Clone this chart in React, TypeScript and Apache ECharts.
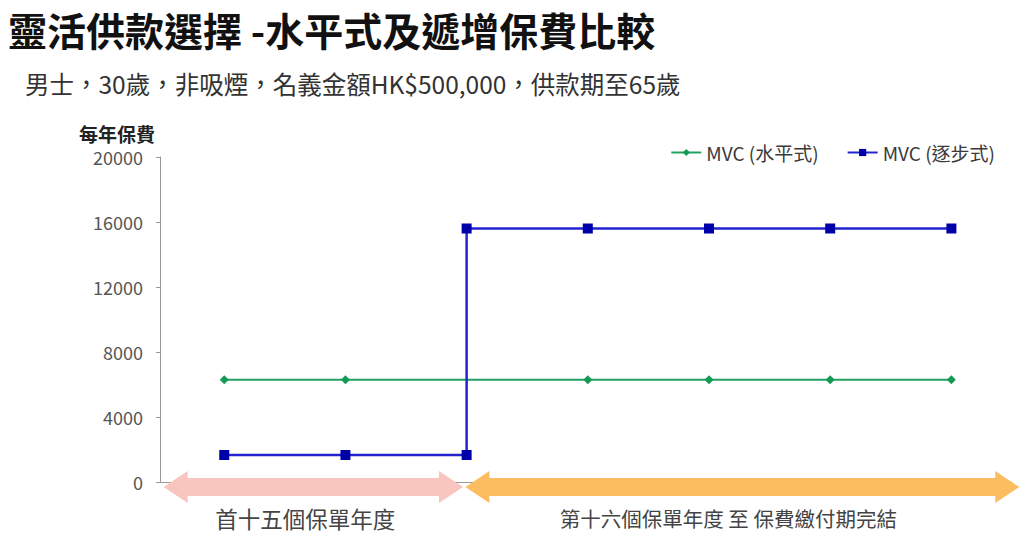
import React, { useEffect, useRef } from "react";
import * as echarts from "echarts";

const titleText = "靈活供款選擇 -水平式及遞增保費比較";
const subtitleText = "男士，30歲，非吸煙，名義金額HK$500,000，供款期至65歲";
const yAxisName = "每年保費";
const seriesNames = ["MVC (水平式)", "MVC (逐步式)"];

// x positions (plot points)
const levelYears = [1, 2, 3, 4, 5, 6, 7];
const levelPremium = [6300, 6300, 6300, 6300, 6300, 6300, 6300];
const stepYears = [1, 2, 3, 3, 4, 5, 6, 7];
const stepPremium = [1660, 1660, 1660, 15600, 15600, 15600, 15600, 15600];

const yTicks = [0, 4000, 8000, 12000, 16000, 20000];

// phase arrows beneath the axis (in x-axis units)
const phaseLabels = ["首十五個保單年度", "第十六個保單年度 至 保費繳付期完結"];
const phaseStarts = [0.5, 2.99];
const phaseEnds = [2.97, 7.56];
const phaseColors = ["#f8c5bf", "#fbbd5f"];

const FONT = '"Noto Sans CJK TC", "Noto Sans", sans-serif';

export default function App() {
  const ref = useRef<HTMLDivElement>(null);
  useEffect(() => {
    document.body.style.margin = "0";
    if (!ref.current) return;
    const chart = echarts.init(ref.current, null, { renderer: "svg" });
    const option: any = {
      animation: false,
      textStyle: { fontFamily: FONT },
      title: [
        {
          text: titleText,
          left: 3,
          top: 4,
          textStyle: { fontSize: 39, fontWeight: "bold", color: "#111", fontFamily: FONT },
        },
        {
          text: subtitleText,
          left: 20,
          top: 66,
          textStyle: { fontSize: 24.5, fontWeight: "normal", color: "#333", fontFamily: FONT },
        },
      ],
      legend: {
        right: 24,
        top: 138,
        itemWidth: 30,
        itemHeight: 9,
        itemGap: 28,
        textStyle: { fontSize: 19, color: "#3a3a3a", fontFamily: FONT },
        data: seriesNames,
      },
      grid: { left: 160, right: 12, top: 157, bottom: 52 },
      xAxis: {
        type: "value",
        min: 0.47,
        max: 7.5,
        axisLine: { show: true, lineStyle: { color: "#999" } },
        axisTick: { show: false },
        axisLabel: { show: false },
        splitLine: { show: false },
      },
      yAxis: {
        type: "value",
        min: yTicks[0],
        max: yTicks[yTicks.length - 1],
        interval: 4000,
        name: yAxisName,
        nameLocation: "end",
        nameGap: 24,
        nameTextStyle: {
          align: "right",
          verticalAlign: "middle",
          padding: [0, 5, 0, 0],
          fontSize: 19,
          fontWeight: "bold",
          color: "#222",
          fontFamily: FONT,
        },
        axisLine: { show: true, lineStyle: { color: "#999" } },
        axisTick: { show: true, length: 4, lineStyle: { color: "#999" } },
        axisLabel: {
          margin: 17,
          fontSize: 18,
          color: "#555",
          fontFamily: FONT,
          formatter: (v: number) => String(v),
        },
        splitLine: { show: false },
      },
      series: [
        {
          name: seriesNames[0],
          type: "line",
          data: levelYears.map((x, i) => [x, levelPremium[i]]),
          symbol: "diamond",
          symbolSize: (_v: any, p: any) => (p.dataIndex === 2 ? 0 : 9),
          lineStyle: { color: "#21a262", width: 2 },
          itemStyle: { color: "#149a55" },
          z: 2,
        },
        {
          name: seriesNames[1],
          type: "line",
          data: stepYears.map((x, i) => [x, stepPremium[i]]),
          symbol: "rect",
          symbolSize: 10,
          lineStyle: { color: "#2323cf", width: 2.5 },
          itemStyle: { color: "#0000a8" },
          z: 3,
        },
      ],
    };
    chart.setOption(option);

    const y0 = chart.convertToPixel({ yAxisIndex: 0 }, 0) as number;
    const cy = y0 + 5;
    const headLen = 24;
    const headH = 16;
    const shaftH = 9;
    const labelSizes = [22.5, 20.5];
    const graphics: any[] = [];
    phaseLabels.forEach((label, i) => {
      const x1 = chart.convertToPixel({ xAxisIndex: 0 }, phaseStarts[i]) as number;
      const x2 = chart.convertToPixel({ xAxisIndex: 0 }, phaseEnds[i]) as number;
      graphics.push({
        type: "polygon",
        z: 50,
        shape: {
          points: [
            [x1, cy],
            [x1 + headLen, cy - headH],
            [x1 + headLen, cy - shaftH],
            [x2 - headLen, cy - shaftH],
            [x2 - headLen, cy - headH],
            [x2, cy],
            [x2 - headLen, cy + headH],
            [x2 - headLen, cy + shaftH],
            [x1 + headLen, cy + shaftH],
            [x1 + headLen, cy + headH],
          ],
        },
        style: { fill: phaseColors[i] },
      });
      graphics.push({
        type: "text",
        z: 50,
        x: (x1 + x2) / 2 - (i === 0 ? 8 : 14),
        y: cy + 31,
        style: {
          text: label,
          fontSize: labelSizes[i],
          fill: "#444",
          fontFamily: FONT,
          align: "center",
          verticalAlign: "middle",
        },
      });
    });
    chart.setOption({ graphic: graphics });

    return () => chart.dispose();
  }, []);
  return <div ref={ref} style={{ width: 1024, height: 534 }} />;
}
